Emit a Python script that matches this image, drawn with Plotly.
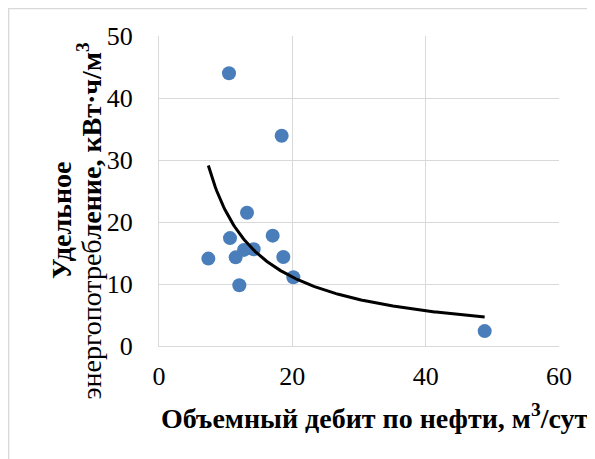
import numpy as np
import plotly.graph_objects as go

# Data
flow_rate = [10.5, 18.4, 13.2, 10.65, 17.05, 7.4, 11.5, 12.75, 14.2, 18.65, 12.05, 20.15, 48.85]
energy = [44.0, 33.9, 21.5, 17.4, 17.8, 14.1, 14.3, 15.5, 15.6, 14.35, 9.8, 11.1, 2.4]
x_ticks = [0, 20, 40, 60]
y_ticks = [0, 10, 20, 30, 40, 50]

# Power trendline (least squares in log space, like Excel's power trendline)
lx = np.log(np.array(flow_rate))
ly = np.log(np.array(energy))
b, ln_a = np.polyfit(lx, ly, 1)
a = np.exp(ln_a)
xt = np.linspace(min(flow_rate), max(flow_rate), 200)
yt = a * xt ** b

FONT = "Liberation Serif"

fig = go.Figure()
fig.add_trace(go.Scatter(
    x=flow_rate, y=energy, mode="markers",
    marker=dict(color="#4a7ebb", size=14, line=dict(width=0)),
    showlegend=False, hoverinfo="x+y"))
fig.add_trace(go.Scatter(
    x=xt, y=yt, mode="lines",
    line=dict(color="black", width=3),
    showlegend=False, hoverinfo="skip"))

fig.update_layout(
    width=587, height=451,
    margin=dict(l=151, r=36, t=28, b=113),
    paper_bgcolor="white", plot_bgcolor="white",
    font=dict(family=FONT, color="black", size=24),
    xaxis=dict(range=[0, 60], tickvals=x_ticks, showgrid=True,
               gridcolor="#d9d9d9", gridwidth=1, zeroline=False,
               showline=True, linecolor="#d9d9d9", linewidth=1,
               ticks="", ticklabelstandoff=7,
               tickfont=dict(family=FONT, size=26, color="black")),
    yaxis=dict(range=[0, 50], tickvals=y_ticks, showgrid=True,
               gridcolor="#d9d9d9", gridwidth=1, zeroline=False,
               showline=True, linecolor="#d9d9d9", linewidth=1,
               ticks="", ticklabelstandoff=20,
               tickfont=dict(family=FONT, size=26, color="black")),
    shapes=[dict(type="rect", xref="paper", yref="paper",
                 x0=-0.376, x1=1.2, y0=-0.5, y1=1.0887,
                 line=dict(color="#d9d9d9", width=1.5), layer="below")],
    annotations=[
        dict(text="<b>Удельное</b>",
             xref="paper", yref="paper", x=-0.2425, y=0.4065,
             xanchor="center", yanchor="middle", textangle=-90,
             showarrow=False, font=dict(family=FONT, size=28, color="black")),
        dict(text="энергопотреб<b>ление, кВт·ч/м<sup>3</sup></b>",
             xref="paper", yref="paper", x=-0.1725, y=0.4016,
             xanchor="center", yanchor="middle", textangle=-90,
             showarrow=False, font=dict(family=FONT, size=28, color="black")),
        dict(text="<b>Объемный дебит по нефти, м<sup>3</sup>/сут</b>",
             xref="paper", yref="paper", x=0.539, y=-0.228,
             xanchor="center", yanchor="middle",
             showarrow=False, font=dict(family=FONT, size=28, color="black")),
    ],
)

fig.write_html("out.html")
